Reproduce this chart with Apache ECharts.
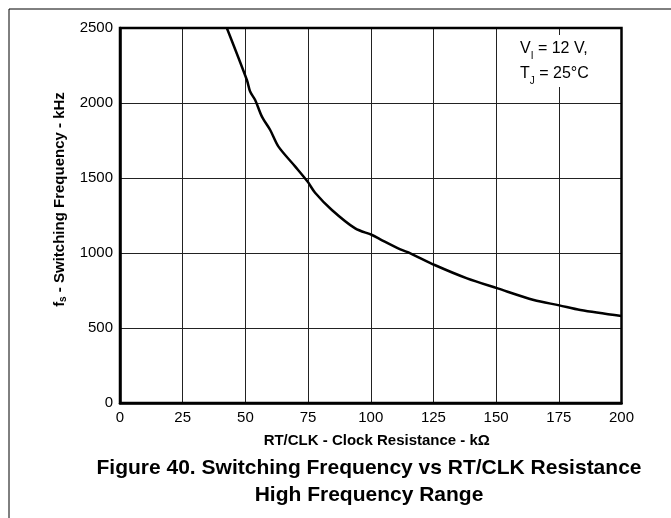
<!DOCTYPE html>
<html><head><meta charset="utf-8">
<script src="https://cdn.jsdelivr.net/npm/echarts@6/dist/echarts.min.js"></script>
<style>html,body{margin:0;padding:0;background:#fff}#c{width:671px;height:518px}</style>
</head><body><div id="c"></div>
<script>
const resistanceK = [42.6, 50.6, 51.9, 53.9, 56.6, 59.9, 63.2, 69.9, 74.8, 77.8, 84.5, 93.8, 100.5, 103.8, 111.8, 115.8, 125.5, 138.4, 150.6, 165, 175.2, 183.6, 200];
const freqKHz = [2500, 2153, 2076, 2020, 1909, 1820, 1709, 1576, 1476, 1402, 1287, 1164, 1120, 1091, 1024, 998, 920, 831, 764, 687, 651, 620, 580];
const xTicks = [0, 25, 50, 75, 100, 125, 150, 175, 200];
const yTicks = [0, 500, 1000, 1500, 2000, 2500];

const FONT = '"Liberation Sans", Arial, sans-serif';
const chart = echarts.init(document.getElementById('c'), null, {renderer: 'canvas'});
chart.setOption({
  animation: false,
  backgroundColor: '#fff',
  title: {
    text: 'Figure 40. Switching Frequency vs RT/CLK Resistance\nHigh Frequency Range',
    left: 364, top: 449, textAlign: 'center',
    textStyle: {fontFamily: FONT, fontWeight: 'bold', fontSize: 21, color: '#000', lineHeight: 27.5}
  },
  grid: {left: 120, right: 49.5, top: 28, bottom: 115},
  xAxis: {
    type: 'value', min: xTicks[0], max: xTicks[xTicks.length-1], interval: 25,
    name: 'RT/CLK - Clock Resistance - kΩ', nameLocation: 'middle', nameGap: 30,
    nameTextStyle: {fontFamily: FONT, fontWeight: 'bold', fontSize: 15, color: '#000', padding: [0, 0, 0, 12]},
    axisLine: {show: true, onZero: false, lineStyle: {color: '#000', width: 2.5}},
    axisTick: {show: false},
    axisLabel: {fontFamily: FONT, fontSize: 15, color: '#000', margin: 7, formatter: v => String(v)},
    splitLine: {show: true, lineStyle: {color: '#222', width: 1}}
  },
  yAxis: {
    type: 'value', min: yTicks[0], max: yTicks[yTicks.length-1], interval: 500,
    name: '{b|f}{s|s}{b| - Switching Frequency - kHz}', nameLocation: 'middle', nameGap: 50, nameRotate: 90,
    nameTextStyle: {padding: [0, 0, 0, 32], rich: {
      b: {fontFamily: FONT, fontWeight: 'bold', fontSize: 15, color: '#000'},
      s: {fontFamily: FONT, fontWeight: 'bold', fontSize: 10, color: '#000', verticalAlign: 'bottom', padding: [7,0,0,0]}
    }},
    axisLine: {show: true, onZero: false, lineStyle: {color: '#000', width: 2.5}},
    axisTick: {show: false},
    axisLabel: {fontFamily: FONT, fontSize: 15, color: '#000', margin: 7, formatter: v => String(v)},
    splitLine: {show: true, lineStyle: {color: '#222', width: 1}}
  },
  series: [{
    type: 'line', data: resistanceK.map((x, i) => [x, freqKHz[i]]),
    showSymbol: false, smooth: 0.3, clip: true,
    lineStyle: {color: '#000', width: 2.5}, z: 5
  }],
  graphic: [
    {type: 'rect', shape: {x: 120, y: 28, width: 501.5, height: 375}, style: {fill: 'none', stroke: '#000', lineWidth: 2.5}, z: 10, silent: true},
    {type: 'line', shape: {x1: 9, y1: 9, x2: 671, y2: 9}, style: {stroke: '#000', lineWidth: 1}},
    {type: 'line', shape: {x1: 9, y1: 9, x2: 9, y2: 518}, style: {stroke: '#000', lineWidth: 1}},
    {type: 'rect', shape: {x: 514, y: 35, width: 90, height: 52}, style: {fill: '#fff'}, z: 8},
    {type: 'text', x: 520, y: 36, z: 9, style: {
      text: '{n|V}{s|I}{n| = 12 V,}\n{n|T}{s|J}{n| = 25°C}',
      rich: {
        n: {fontFamily: FONT, fontSize: 16, fill: '#000', lineHeight: 25},
        s: {fontFamily: FONT, fontSize: 10, fill: '#000', verticalAlign: 'bottom', lineHeight: 25, padding: [9,0,0,0]}
      }
    }}
  ]
});
</script></body></html>
